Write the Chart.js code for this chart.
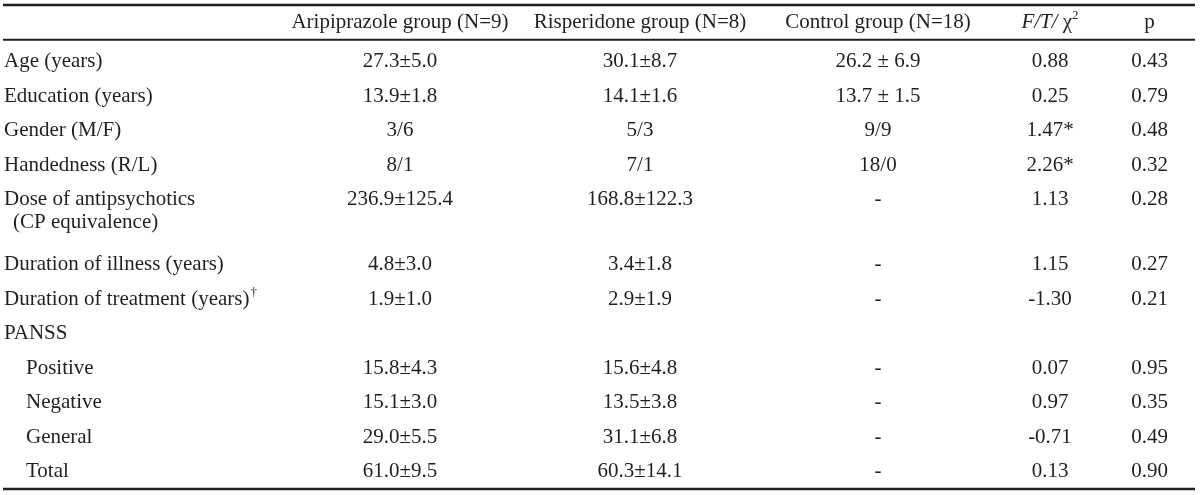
<!DOCTYPE html>
<html>
<head>
<meta charset="utf-8">
<script src="https://cdn.jsdelivr.net/npm/chart.js@4"></script>
<style>
  body { margin: 0; background: #fff; }
  canvas { display: block; }
</style>
</head>
<body>
<canvas id="table" width="1200" height="495"></canvas>
<script>
// table content
var columnHeaders = ["", "Aripiprazole group (N=9)", "Risperidone group (N=8)", "Control group (N=18)", "F/T/ χ2", "p"];
var rowLabels = ["Age (years)", "Education (years)", "Gender (M/F)", "Handedness (R/L)",
  "Dose of antipsychotics", "Duration of illness (years)", "Duration of treatment (years)",
  "PANSS", "Positive", "Negative", "General", "Total"];
var rowSubLines = ["", "", "", "", "(CP equivalence)", "", "", "", "", "", "", ""];
var rowMarks = ["", "", "", "", "", "", "†", "", "", "", "", ""];
var subRows = ["Positive", "Negative", "General", "Total"];

var aripiprazole = ["27.3±5.0", "13.9±1.8", "3/6", "8/1", "236.9±125.4", "4.8±3.0", "1.9±1.0", "", "15.8±4.3", "15.1±3.0", "29.0±5.5", "61.0±9.5"];
var risperidone = ["30.1±8.7", "14.1±1.6", "5/3", "7/1", "168.8±122.3", "3.4±1.8", "2.9±1.9", "", "15.6±4.8", "13.5±3.8", "31.1±6.8", "60.3±14.1"];
var control = ["26.2 ± 6.9", "13.7 ± 1.5", "9/9", "18/0", "-", "-", "-", "", "-", "-", "-", "-"];
var testStat = ["0.88", "0.25", "1.47*", "2.26*", "1.13", "1.15", "-1.30", "", "0.07", "0.97", "-0.71", "0.13"];
var pValues = ["0.43", "0.79", "0.48", "0.32", "0.28", "0.27", "0.21", "", "0.95", "0.35", "0.49", "0.90"];

// layout
var colWidths = [277, 240, 240, 236, 108, 91];
var ink = "#231f20";
var font = "21px 'Liberation Serif', 'DejaVu Serif', serif";
var italicFont = "italic 21px 'Liberation Serif', 'DejaVu Serif', serif";
var supFont = "13px 'Liberation Serif', 'DejaVu Serif', serif";

var colStart = [];
var colCenter = [];
var acc = 0;
for (var c = 0; c < colWidths.length; c++) {
  colStart.push(acc);
  colCenter.push(acc + colWidths[c] / 2);
  acc += colWidths[c];
}
var totalWidth = acc;

// row positions in line units, a second line makes the row taller
var rowPos = [];
var pos = 0;
for (var r = 0; r < rowLabels.length; r++) {
  rowPos.push(pos);
  pos += rowSubLines[r] ? 1.88 : 1;
}
var headerPos = -1.13;
var topRule = -1.65, headRule = -0.64, bottomRule = pos - 1 + 0.5;

var valueColumns = [aripiprazole, risperidone, control, testStat, pValues];
var datasets = [];
for (var i = 0; i < valueColumns.length; i++) {
  var pts = [], texts = [];
  for (var r = 0; r < rowLabels.length; r++) {
    if (valueColumns[i][r] === "") continue;
    pts.push({x: colCenter[i + 1], y: rowPos[r]});
    texts.push(valueColumns[i][r]);
  }
  datasets.push({data: pts, texts: texts, pointRadius: 0, showLine: false});
}

function drawParts(ctx, parts, cx, y) {
  var w = 0;
  parts.forEach(function(p) { ctx.font = p.font; p.w = ctx.measureText(p.t).width; w += p.w; });
  var x = cx - w / 2;
  parts.forEach(function(p) {
    ctx.font = p.font;
    ctx.fillText(p.t, x, y + (p.dy || 0));
    x += p.w;
  });
}

var tablePlugin = {
  id: "tableText",
  afterDatasetsDraw: function(chart) {
    var ctx = chart.ctx, xs = chart.scales.x, ys = chart.scales.y;
    ctx.save();
    ctx.fillStyle = ink;
    ctx.strokeStyle = ink;
    ctx.textBaseline = "middle";

    // rules
    var left = xs.getPixelForValue(0), right = xs.getPixelForValue(totalWidth);
    [[topRule, 2.5], [headRule, 2], [bottomRule, 2.5]].forEach(function(rl) {
      var y = ys.getPixelForValue(rl[0]);
      ctx.lineWidth = rl[1];
      ctx.beginPath();
      ctx.moveTo(left, y);
      ctx.lineTo(right, y);
      ctx.stroke();
    });

    // header row
    var hy = ys.getPixelForValue(headerPos);
    ctx.textAlign = "left";
    for (var c = 1; c < columnHeaders.length; c++) {
      var cx = xs.getPixelForValue(colCenter[c]);
      if (columnHeaders[c] === "F/T/ χ2") {
        drawParts(ctx, [
          {t: "F/T/", font: italicFont},
          {t: " χ", font: font},
          {t: "2", font: supFont, dy: -7}
        ], cx, hy);
      } else {
        drawParts(ctx, [{t: columnHeaders[c], font: font}], cx, hy);
      }
    }

    // row labels
    for (var r = 0; r < rowLabels.length; r++) {
      var y = ys.getPixelForValue(rowPos[r]);
      var x = xs.getPixelForValue(subRows.indexOf(rowLabels[r]) >= 0 ? 23 : 1);
      ctx.font = font;
      ctx.fillText(rowLabels[r], x, y);
      if (rowMarks[r]) {
        var w = ctx.measureText(rowLabels[r]).width;
        ctx.font = supFont;
        ctx.fillText(rowMarks[r], x + w + 1, y - 7);
      }
      if (rowSubLines[r]) {
        ctx.font = font;
        ctx.fillText(rowSubLines[r], xs.getPixelForValue(10), ys.getPixelForValue(rowPos[r] + 0.64));
      }
    }

    // value cells at the dataset points
    ctx.font = font;
    ctx.textAlign = "center";
    chart.data.datasets.forEach(function(ds, di) {
      var meta = chart.getDatasetMeta(di);
      meta.data.forEach(function(pt, k) {
        ctx.fillText(ds.texts[k], pt.x, pt.y);
      });
    });
    ctx.restore();
  }
};

new Chart(document.getElementById("table"), {
  type: "scatter",
  data: {datasets: datasets},
  options: {
    responsive: false,
    animation: false,
    layout: {padding: {left: 3, right: 5, top: 5, bottom: 6}},
    plugins: {legend: {display: false}, tooltip: {enabled: false}},
    scales: {
      x: {type: "linear", display: false, min: 0, max: totalWidth},
      y: {type: "linear", display: false, reverse: true, min: topRule, max: bottomRule}
    }
  },
  plugins: [tablePlugin]
});
</script>
</body>
</html>
